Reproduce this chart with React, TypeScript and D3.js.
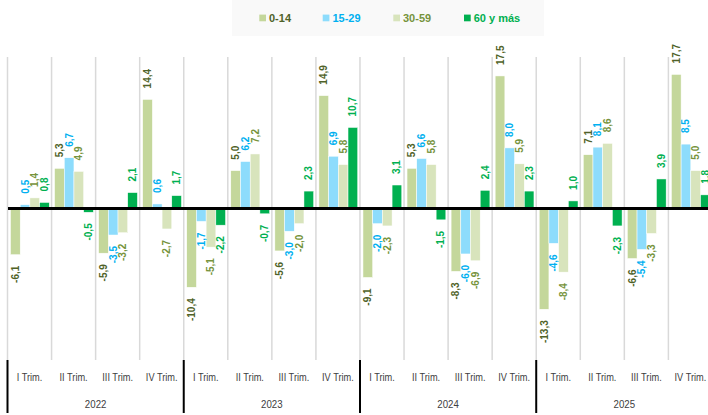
import React from "react";
import * as d3 from "d3";

const years = ["2022", "2023", "2024", "2025"];
const quarters = ["I Trim.", "II Trim.", "III Trim.", "IV Trim."];
const seriesNames = ["0-14", "15-29", "30-59", "60 y más"];
const s0_14 = [-6.1, 5.3, -5.9, 14.4, -10.4, 5.0, -5.6, 14.9, -9.1, 5.3, -8.3, 17.5, -13.3, 7.1, -6.6, 17.7];
const s15_29 = [0.5, 6.7, -3.5, 0.6, -1.7, 6.2, -3.0, 6.9, -2.0, 6.6, -6.0, 8.0, -4.6, 8.1, -5.4, 8.5];
const s30_59 = [1.4, 4.9, -3.2, -2.7, -5.1, 7.2, -2.0, 5.8, -2.3, 5.8, -6.9, 5.9, -8.4, 8.6, -3.3, 5.0];
const s60 = [0.8, -0.5, 2.1, 1.7, -2.2, -0.7, 2.3, 10.7, 3.1, -1.5, 2.4, 2.3, 1.0, -2.3, 3.9, 1.8];

const barColors = ["#c4d79b", "#8ddcfc", "#d8e4bc", "#00b050"];
const textColors = ["#4f6228", "#00b0f0", "#76933c", "#00b050"];

const W = 708;
const H = 415;
const FONT = "'Liberation Sans', Arial, sans-serif";

export default function App() {
  const series = [s0_14, s15_29, s30_59, s60];
  const cats = d3.range(years.length * quarters.length);
  const bandW = 44.06;
  const x0 = 7.5;
  const x = d3.scaleBand<number>().domain(cats).range([x0, x0 + cats.length * bandW]).paddingInner(0).paddingOuter(0);
  const xs = d3.scaleBand<number>().domain(d3.range(series.length)).range([3, 41.8]).padding(0);
  const y = d3.scaleLinear().domain([-20, 20]).range([360, 57]);
  const fmt = (v: number) => d3.format(".1f")(v).replace(".", ",").replace("\u2212", "-");
  const legendX = [259.3, 322.7, 393.3, 464];
  const gap = 11;

  return (
    <div style={{ position: "fixed", left: 0, top: 0 }}>
      <svg width={W} height={H} style={{ display: "block", background: "#ffffff" }}>
        <rect x={232} y={0} width={312} height={36} fill="#f9f9f9" />
        {/* legend */}
        {seriesNames.map((n, i) => (
          <g key={n}>
            <rect x={legendX[i]} y={14.6} width={6.7} height={6.7} fill={barColors[i]} />
            <text x={legendX[i] + 9.7} y={22.2} fontFamily={FONT} fontWeight="bold" fontSize={11} fill={textColors[i]}>
              {n}
            </text>
          </g>
        ))}
        {/* gridlines */}
        {d3.range(cats.length + 1).map((i) => {
          const gx = x0 + i * bandW;
          return <line key={"g" + i} x1={gx} x2={gx} y1={57} y2={360} stroke="#d9d9d9" strokeWidth={1.5} />;
        })}
        {/* bars */}
        {series.map((s, si) =>
          s.map((v, ci) => {
            const bx = (x(ci) as number) + (xs(si) as number);
            const y1 = y(Math.max(0, v));
            const y2 = y(Math.min(0, v));
            return (
              <rect key={si + "-" + ci} x={bx} y={y1} width={xs.bandwidth()} height={y2 - y1} fill={barColors[si]} stroke="#ffffff" strokeWidth={0.5} />
            );
          })
        )}
        {/* zero line */}
        <line x1={8} x2={W} y1={y(0)} y2={y(0)} stroke="#000" strokeWidth={3} />
        {/* labels */}
        {series.map((s, si) =>
          s.map((v, ci) => {
            const cx = (x(ci) as number) + (xs(si) as number) + xs.bandwidth() / 2;
            const ye = y(v);
            const ly = v >= 0 ? ye - gap : ye + gap;
            return (
              <text
                key={"l" + si + "-" + ci}
                transform={`translate(${cx},${ly}) rotate(-90)`}
                textAnchor={v >= 0 ? "start" : "end"}
                dy="0.35em"
                fontFamily={FONT}
                fontWeight="bold"
                fontSize={10}
                fill={textColors[si]}
              >
                {fmt(v)}
              </text>
            );
          })
        )}
        {/* category axis */}
        {cats.map((ci) => (
          <text
            key={"c" + ci}
            transform={`translate(${(x(ci) as number) + bandW / 2},380.5) scale(0.84,1)`}
            textAnchor="middle"
            fontFamily={FONT}
            fontSize={11}
            fill="#404040"
          >
            {quarters[ci % quarters.length]}
          </text>
        ))}
        {years.map((yr, yi) => {
          const sx = x0 + yi * quarters.length * bandW;
          return (
            <g key={yr}>
              <line x1={sx} x2={sx} y1={360} y2={413} stroke="#000" strokeWidth={2} />
              <text
                transform={`translate(${sx + (quarters.length * bandW) / 2},408) scale(0.88,1)`}
                textAnchor="middle"
                fontFamily={FONT}
                fontSize={11}
                fill="#404040"
              >
                {yr}
              </text>
            </g>
          );
        })}
      </svg>
    </div>
  );
}
